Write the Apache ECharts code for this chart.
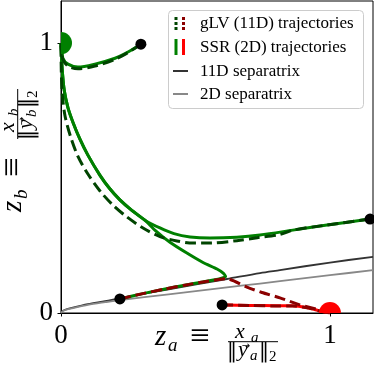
<!DOCTYPE html>
<html><head><meta charset="utf-8">
<script src="https://cdn.jsdelivr.net/npm/echarts/dist/echarts.min.js"></script>
<style>html,body{margin:0;padding:0;background:#fff}#c{width:374px;height:366px}</style>
</head><body><div id="c"></div>
<script>
// ---- data ----
var sepX = [0, 0.005, 0.015, 0.04, 0.1, 0.164, 0.22, 0.4, 0.617, 0.74, 0.814, 1.0, 1.16];
var sep11D_Y = [0, 0.007, 0.012, 0.019, 0.033, 0.044, 0.055, 0.088, 0.126, 0.148, 0.159, 0.187, 0.208];
var sep2D_Y = [0, 0.006, 0.011, 0.017, 0.030, 0.040, 0.048, 0.069, 0.095, 0.109, 0.118, 0.140, 0.159];

var ssrA_X = [0.297, 0.249, 0.201, 0.126, 0.063, 0.026, 0.007, 0.004, 0];
var ssrA_Y = [0.996, 0.967, 0.944, 0.922, 0.911, 0.922, 0.944, 0.974, 1];
var glvA_X = [0.297, 0.249, 0.201, 0.126, 0.063, 0.026, 0.007, 0.002, 0];
var glvA_Y = [0.996, 0.965, 0.940, 0.915, 0.905, 0.915, 0.940, 0.970, 1];

var ssrB_X = [1.149, 0.989, 0.862, 0.740, 0.654, 0.554, 0.480, 0.420, 0.368, 0.312, 0.260, 0.219, 0.180, 0.145, 0.100, 0.070, 0.045, 0.026, 0.012, 0.004, 0];
var ssrB_Y = [0.348, 0.326, 0.307, 0.289, 0.281, 0.278, 0.282, 0.294, 0.315, 0.344, 0.383, 0.419, 0.462, 0.510, 0.585, 0.645, 0.705, 0.760, 0.825, 0.910, 1];
var glvB_X = [1.149, 0.989, 0.862, 0.814, 0.729, 0.654, 0.554, 0.491, 0.431, 0.368, 0.305, 0.245, 0.193, 0.145, 0.100, 0.063, 0.035, 0.015, 0.005, 0.001, 0];
var glvB_Y = [0.348, 0.326, 0.307, 0.291, 0.279, 0.268, 0.259, 0.259, 0.267, 0.283, 0.315, 0.356, 0.400, 0.452, 0.515, 0.580, 0.655, 0.730, 0.810, 0.900, 1];

var ssrC_X = [0.219, 0.300, 0.387, 0.460, 0.528, 0.591, 0.612, 0.603, 0.580, 0.528, 0.468, 0.405, 0.350, 0.312, 0.260, 0.219, 0.180, 0.145, 0.100, 0.070, 0.045, 0.026, 0.012, 0.004, 0];
var ssrC_Y = [0.052, 0.071, 0.089, 0.103, 0.115, 0.127, 0.135, 0.148, 0.163, 0.187, 0.222, 0.262, 0.306, 0.344, 0.383, 0.419, 0.462, 0.510, 0.585, 0.645, 0.705, 0.760, 0.825, 0.910, 1];
var glvC_X = [0.219, 0.300, 0.387, 0.460, 0.528, 0.617, 0.691, 0.747, 0.814, 0.888, 0.963, 1];
var glvC_Y = [0.052, 0.071, 0.089, 0.103, 0.115, 0.127, 0.096, 0.076, 0.056, 0.030, 0.011, 0];

var ssrD_X = [0.599, 0.70, 0.80, 0.86, 0.92, 0.96, 1];
var ssrD_Y = [0.030, 0.028, 0.027, 0.027, 0.019, 0.008, 0];
var glvD_X = [0.599, 0.70, 0.80, 0.86, 0.92, 0.96, 1];
var glvD_Y = [0.030, 0.028, 0.026, 0.026, 0.018, 0.008, 0];

var startX = [0.297, 1.149, 0.219, 0.599];
var startY = [0.996, 0.348, 0.052, 0.030];
var fixGreen = [0, 1];
var fixRed = [1, 0];

var tickValues = [0, 1];
var legendLabels = ['gLV (11D) trajectories', 'SSR (2D) trajectories', '11D separatrix', '2D separatrix'];

// ---- build ----
function zip(xs, ys) { return xs.map(function (x, i) { return [x, ys[i]]; }); }
var GREEN = '#008000', DKGREEN = '#004400', RED = '#ff0000', DKRED = '#8b0000';
var DASH = [11, 5];
function line(name, xs, ys, color, width, dashed, z, smooth) {
  return { type: 'line', name: name, data: zip(xs, ys), showSymbol: false, symbol: 'none', smooth: smooth == null ? 0.3 : smooth,
    lineStyle: { color: color, width: width, type: dashed ? DASH : 'solid', cap: 'butt', join: 'round' },
    z: z, silent: true, animation: false };
}
var serif = '"Liberation Serif", "DejaVu Serif", serif';

function txt(u, base, str, size, italic, fam) {
  return { type: 'text', x: u, y: base - 0.34 * size, silent: true,
    style: { text: str, fontSize: size, fontFamily: fam || serif, fontStyle: italic ? 'italic' : 'normal',
      fill: '#000', align: 'left', verticalAlign: 'middle' } };
}
function titleParts(main, sub) {
  return [
    txt(0, 0, main, 29, true),
    txt(13, 5, sub, 19, true),
    txt(35, 3, '\u2261', 35, false),
    txt(80, -7, 'x', 22, true),
    txt(96, -4, sub, 15, true),
    { type: 'line', silent: true, shape: { x1: 73, y1: -5.3, x2: 123, y2: -5.3 }, style: { stroke: '#000', lineWidth: 1 } },
    txt(72, 12, '\u2016', 20, false, '"DejaVu Serif", serif'),
    txt(83, 11, 'y', 22, true),
    { type: 'text', x: 91, y: -1, silent: true, style: { text: '\u2192', fontSize: 10, fontFamily: '"DejaVu Sans", sans-serif', fill: '#000', align: 'center', verticalAlign: 'middle' } },
    txt(95, 14, sub, 15, true),
    txt(104, 12, '\u2016', 20, false, '"DejaVu Serif", serif'),
    txt(114, 15, '2', 15, false)
  ];
}
function halfDisc(pt, color, a0, a1) {
  return { type: 'custom', data: [pt], z: 4, silent: true, clip: true,
    renderItem: function (params, api) {
      var c = api.coord([api.value(0), api.value(1)]);
      return { type: 'sector', shape: { cx: c[0], cy: c[1], r0: 0, r: 11, startAngle: a0, endAngle: a1, clockwise: true },
        style: { fill: color } };
    } };
}

var chart = echarts.init(document.getElementById('c'), null, { renderer: 'canvas' });
var axisCommon = {
  type: 'value', min: 0, interval: 1,
  axisLine: { show: true, onZero: false, lineStyle: { color: '#000', width: 1 } },
  axisTick: { show: true, inside: false, length: 3.5, lineStyle: { color: '#000', width: 1 }, customValues: tickValues },
  axisLabel: { show: true, fontSize: 27, fontFamily: serif, color: '#000', customValues: tickValues,
    formatter: function (v) { return (v === 0 || v === 1) ? String(v) : ''; } },
  splitLine: { show: false }
};
var option = {
  animation: false,
  backgroundColor: '#fff',
  grid: { left: 61, right: 1, top: 1, bottom: 53, show: true, borderColor: '#000', borderWidth: 1, containLabel: false, outerBoundsMode: 'none' },
  xAxis: Object.assign({}, axisCommon, { max: 1.16, axisLabel: Object.assign({}, axisCommon.axisLabel, { margin: 9 }) }),
  yAxis: Object.assign({}, axisCommon, { max: 1.156, axisLabel: Object.assign({}, axisCommon.axisLabel, { margin: 8 }) }),
  series: [
    line('11D separatrix', sepX, sep11D_Y, '#333333', 1.8, false, 1),
    line('2D separatrix', sepX, sep2D_Y, '#888888', 1.8, false, 1),
    line('SSR A', ssrA_X, ssrA_Y, GREEN, 3, false, 2),
    line('SSR B', ssrB_X, ssrB_Y, GREEN, 3, false, 2),
    line('SSR C', ssrC_X, ssrC_Y, GREEN, 3, false, 2, 0.2),
    line('SSR D', ssrD_X, ssrD_Y, RED, 3, false, 2),
    line('gLV A', glvA_X, glvA_Y, DKGREEN, 3, true, 3),
    line('gLV B', glvB_X, glvB_Y, DKGREEN, 3, true, 3),
    line('gLV C', glvC_X, glvC_Y, DKRED, 3, true, 3, 0.2),
    line('gLV D', glvD_X, glvD_Y, DKRED, 3, true, 3),
    halfDisc(fixGreen, GREEN, -Math.PI / 2, Math.PI / 2),
    halfDisc(fixRed, RED, Math.PI, 2 * Math.PI),
    { type: 'scatter', data: zip(startX, startY), symbol: 'circle', symbolSize: 11, itemStyle: { color: '#000', opacity: 1 }, z: 5, silent: true }
  ],
  graphic: [
    { type: 'group', x: 155, y: 347, children: titleParts('z', 'a') },
    { type: 'group', x: 23, y: 212, rotation: Math.PI / 2, children: titleParts('z', 'b') },
    { type: 'group', x: 0, y: 0, z: 100, children: [
      { type: 'rect', shape: { x: 168.5, y: 10.5, width: 195, height: 98, r: 4 }, style: { fill: 'rgba(255,255,255,0.85)', stroke: '#cccccc', lineWidth: 1 } },
      { type: 'line', shape: { x1: 176, y1: 17, x2: 176, y2: 31 }, style: { stroke: DKGREEN, lineWidth: 3, lineDash: [3, 2] } },
      { type: 'line', shape: { x1: 183.5, y1: 17, x2: 183.5, y2: 31 }, style: { stroke: DKRED, lineWidth: 3, lineDash: [3, 2] } },
      { type: 'line', shape: { x1: 176, y1: 39, x2: 176, y2: 55 }, style: { stroke: GREEN, lineWidth: 3 } },
      { type: 'line', shape: { x1: 183.5, y1: 39, x2: 183.5, y2: 55 }, style: { stroke: RED, lineWidth: 3 } },
      { type: 'line', shape: { x1: 173, y1: 71, x2: 188, y2: 71 }, style: { stroke: '#333333', lineWidth: 2 } },
      { type: 'line', shape: { x1: 173, y1: 94, x2: 188, y2: 94 }, style: { stroke: '#888888', lineWidth: 2 } },
      { type: 'text', x: 200, y: 24, style: { text: legendLabels[0], fontSize: 17, fontFamily: serif, fill: '#000', align: 'left', verticalAlign: 'middle' } },
      { type: 'text', x: 200, y: 48, style: { text: legendLabels[1], fontSize: 17, fontFamily: serif, fill: '#000', align: 'left', verticalAlign: 'middle' } },
      { type: 'text', x: 200, y: 72, style: { text: legendLabels[2], fontSize: 17, fontFamily: serif, fill: '#000', align: 'left', verticalAlign: 'middle' } },
      { type: 'text', x: 200, y: 95, style: { text: legendLabels[3], fontSize: 17, fontFamily: serif, fill: '#000', align: 'left', verticalAlign: 'middle' } }
    ] }
  ]
};
chart.setOption(option);
</script></body></html>
